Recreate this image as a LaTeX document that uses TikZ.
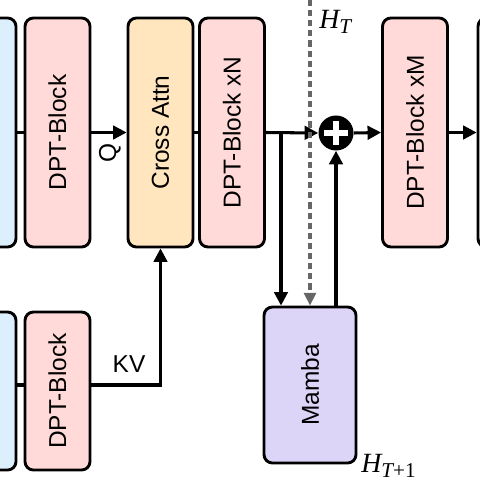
\documentclass[tikz,border=0pt]{standalone}
\usepackage{fontspec}
\setmainfont{Liberation Sans}
\newfontfamily\serifit{Liberation Serif}
\usepackage{graphicx}
\usetikzlibrary{arrows.meta}

\definecolor{blkblue}{HTML}{DBEFFC}
\definecolor{blkpink}{HTML}{FFDAD8}
\definecolor{blkorange}{HTML}{FFE6BF}
\definecolor{blkpurple}{HTML}{DDD5F8}
\definecolor{dashgray}{HTML}{666666}

\newdimen\pxl
\pxl=0.5927pt

\tikzset{
  blk/.style={draw, line width=1.7pt, rounded corners=5pt, inner sep=0pt,
    minimum width=65*\pxl, font=\fontsize{14.5}{17}\selectfont},
  tallblk/.style={blk, minimum height=229*\pxl},
  lowblk/.style={blk, minimum height=158*\pxl},
  conn/.style={line width=1.8pt},
  arr/.style={conn, -{Triangle[length=8pt,width=8pt]}},
  dasharr/.style={line width=2pt, dashgray, dash pattern=on 3.6pt off 2.4pt,
    -{Triangle[length=7.5pt,width=7pt]}},
  lbl/.style={font=\fontsize{14.5}{17}\selectfont, inner sep=0pt},
  hlbl/.style={font=\fontsize{16.5}{18}\serifit\itshape, inner sep=0pt}
}
\newcommand{\subsc}[1]{\raisebox{-0.4ex}{\fontsize{12.5}{13}\selectfont #1}}

\begin{document}
\begin{tikzpicture}[x=\pxl, y=-\pxl]
	\useasboundingbox (0,0) rectangle (480,480);

	% upper row
	\node[tallblk, fill=blkblue] (inT) at (-16.5,132.5) {};
	\node[tallblk, fill=blkpink] (dptA) at (57.5,132.5) {\rotatebox{90}{DPT-Block}};
	\node[tallblk, fill=blkorange] (cross) at (160.5,132.5) {\rotatebox{90}{Cross Attn}};
	\node[tallblk, fill=blkpink] (dptN) at (232,132.5) {\rotatebox{90}{DPT-Block xN}};
	\node[tallblk, fill=blkpink] (dptM) at (415,132.5) {\rotatebox{90}{DPT-Block xM}};
	\node[tallblk, fill=white] (outT) at (510.5,132.5) {};

	% lower row
	\node[lowblk, fill=blkblue] (inB) at (-16.5,391) {};
	\node[lowblk, fill=blkpink] (dptB) at (57.5,391) {\rotatebox{90}{DPT-Block}};

	% mamba branch
	\node[blk, fill=blkpurple, minimum width=92*\pxl, minimum height=156*\pxl] (mamba) at (310,385) {\rotatebox{90}{Mamba}};
	\node[circle, fill=black, inner sep=0pt, minimum size=35*\pxl] (plus) at (336,133) {};
	\draw[white, line width=3pt] (plus.center) ++(-12,0) -- ++(24,0);
	\draw[white, line width=3pt] (plus.center) ++(0,-12) -- ++(0,24);

	\coordinate (split) at (281,133);
	\coordinate (htop) at (310,0);
	\coordinate (kvy) at (0,385);

	% connectors
	\draw[conn] (inT.east) -- (dptA.west);
	\draw[arr] (dptA.east) -- (cross.west);
	\draw[conn] (cross.east) -- (dptN.west);
	\draw[arr] (dptN.east) -- (plus.west);
	\draw[arr] (plus.east) -- (dptM.west);
	\draw[arr] (dptM.east) -- (outT.west);
	\draw[arr] (split) -- (split |- mamba.north);
	\draw[dasharr] (htop) -- (mamba.north);
	\draw[arr] (mamba.north -| plus) -- (plus.south);
	\draw[conn] (inB.east |- kvy) -- (dptB.west |- kvy);
	\draw[arr] (dptB.east |- kvy) -| (cross.south);

	% labels
	\node[lbl] (qlbl) at (110,153) {\rotatebox{90}{Q}};
	\node[lbl] (kvlbl) at (129,364) {KV};
	\node[hlbl, anchor=west] (htlbl) at (319,22) {H\subsc{T}};
	\node[hlbl, anchor=west] (ht1lbl) at (361,466) {H\subsc{T{\upshape +1}}};

\end{tikzpicture}
\end{document}
